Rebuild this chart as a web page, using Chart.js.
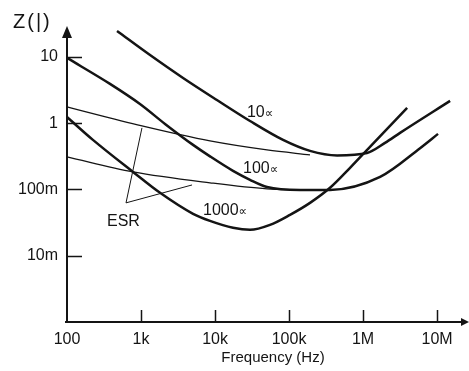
<!DOCTYPE html>
<html>
<head>
<meta charset="utf-8">
<script src="https://cdn.jsdelivr.net/npm/chart.js@4.4.1/dist/chart.umd.min.js"></script>
<style>
  html, body { margin: 0; padding: 0; background: #fff; }
</style>
</head>
<body>
<canvas id="impedanceChart" width="469" height="371"></canvas>
<script>
  // axis ticks
  const xTickValues = [100, 1e3, 1e4, 1e5, 1e6, 1e7];
  const xTickLabels = ['100', '1k', '10k', '100k', '1M', '10M'];
  const yTickValues = [0.01, 0.1, 1, 10];
  const yTickLabels = ['10m', '100m', '1', '10'];

  // |Z| curves (Hz, ohm)
  const freq10 = [474, 1324, 3700, 10600, 29700, 83000, 192000, 446000, 1130000, 1980000, 3160000, 15000000];
  const z10 = [24.7, 10.7, 4.82, 2.24, 1.08, 0.56, 0.382, 0.327, 0.356, 0.505, 0.714, 2.17];

  const freq100 = [100, 381, 968, 2110, 5050, 8550, 17500, 29700, 50400, 141000, 358000, 1700000, 5890000, 10300000];
  const z100 = [9.66, 3.92, 1.95, 0.976, 0.471, 0.316, 0.191, 0.14, 0.109, 0.0986, 0.0986, 0.155, 0.42, 0.69];

  const freq1000 = [100, 224, 780, 1807, 5050, 8550, 17500, 29700, 55300, 103000, 192000, 358000, 667000, 1240000, 3940000];
  const z1000 = [1.24, 0.56, 0.184, 0.089, 0.0429, 0.0336, 0.0264, 0.0246, 0.0292, 0.0414, 0.0628, 0.106, 0.212, 0.44, 1.70];

  // ESR lines
  const esrFreqA = [100, 1030, 8550, 50400, 192000];
  const esrZA = [1.76, 0.91, 0.54, 0.395, 0.333];
  const esrFreqB = [100, 780, 8550, 50400, 141000];
  const esrZB = [0.31, 0.184, 0.126, 0.102, 0.0986];

  // callout from the "ESR" label
  const pointerFreq = [1030, 627, 4890];
  const pointerZ = [0.85, 0.0628, 0.117];

  const curveLabels = [
    { text: '10', unit: '\u221D', x: 27000, y: 1.43 },
    { text: '100', unit: '\u221D', x: 23900, y: 0.205 },
    { text: '1000', unit: '\u221D', x: 6880, y: 0.0475 },
    { text: 'ESR', unit: '', x: 347, y: 0.033 }
  ];

  const INK = '#141414';
  const FONT = '"Liberation Sans", Arial, sans-serif';

  function pairs(xs, ys) {
    return xs.map(function (x, i) { return { x: x, y: ys[i] }; });
  }

  function curve(xs, ys, width, smooth) {
    return {
      data: pairs(xs, ys),
      showLine: true,
      borderColor: INK,
      borderWidth: width,
      pointRadius: 0,
      cubicInterpolationMode: smooth ? 'monotone' : 'default',
      tension: 0,
      clip: false,
      fill: false
    };
  }

  const sketchAxes = {
    id: 'sketchAxes',
    afterDraw: function (chart) {
      const ctx = chart.ctx;
      const a = chart.chartArea;
      const xs = chart.scales.x;
      const ys = chart.scales.y;
      ctx.save();
      ctx.strokeStyle = INK;
      ctx.fillStyle = INK;
      ctx.lineWidth = 2;

      // axes
      ctx.beginPath();
      ctx.moveTo(a.left, a.bottom + 1);
      ctx.lineTo(a.left, a.top);
      ctx.moveTo(a.left - 2, a.bottom);
      ctx.lineTo(a.right, a.bottom);
      ctx.stroke();

      // arrow heads
      ctx.beginPath();
      ctx.moveTo(a.left, a.top - 11);
      ctx.lineTo(a.left - 5, a.top + 1);
      ctx.lineTo(a.left + 5, a.top + 1);
      ctx.closePath();
      ctx.fill();
      ctx.beginPath();
      ctx.moveTo(a.right + 6, a.bottom);
      ctx.lineTo(a.right - 2, a.bottom - 4);
      ctx.lineTo(a.right - 2, a.bottom + 4);
      ctx.closePath();
      ctx.fill();

      // inward ticks
      ctx.lineWidth = 1.5;
      ctx.beginPath();
      yTickValues.forEach(function (v) {
        const py = Math.round(ys.getPixelForValue(v)) + 0.5;
        ctx.moveTo(a.left, py);
        ctx.lineTo(a.left + 15, py);
      });
      xTickValues.slice(1).forEach(function (v) {
        const px = Math.round(xs.getPixelForValue(v)) + 0.5;
        ctx.moveTo(px, a.bottom);
        ctx.lineTo(px, a.bottom - 12);
      });
      ctx.stroke();

      // curve labels
      ctx.textBaseline = 'middle';
      ctx.textAlign = 'left';
      curveLabels.forEach(function (l) {
        const px = xs.getPixelForValue(l.x);
        const py = ys.getPixelForValue(l.y);
        ctx.font = '16px ' + FONT;
        ctx.fillText(l.text, px, py);
        if (l.unit) {
          const w = ctx.measureText(l.text).width;
          ctx.font = '12px "DejaVu Sans", ' + FONT;
          ctx.fillText(l.unit, px + w, py + 1);
        }
      });

      // titles
      ctx.font = '15px ' + FONT;
      ctx.textAlign = 'center';
      ctx.fillText('Frequency (Hz)', 273, 358);
      ctx.font = '20px ' + FONT;
      ctx.textAlign = 'left';
      ctx.letterSpacing = '2px';
      ctx.fillText('Z(|)', 13, 22);
      ctx.restore();
    }
  };

  function init() {
    const el = document.getElementById('impedanceChart');
    if (typeof Chart === 'undefined') {
      console.error('Chart.js is not loaded!');
      return;
    }

    new Chart(el, {
      type: 'scatter',
      data: {
        datasets: [
          curve(freq10, z10, 2.5, true),
          curve(freq100, z100, 2.5, true),
          curve(freq1000, z1000, 2.5, true),
          curve(esrFreqA, esrZA, 1.3, true),
          curve(esrFreqB, esrZB, 1.3, true),
          curve(pointerFreq, pointerZ, 1, false)
        ]
      },
      options: {
        responsive: false,
        animation: false,
        devicePixelRatio: 1,
        layout: { padding: { top: 37, right: 6, left: 0, bottom: 0 } },
        plugins: { legend: { display: false }, tooltip: { enabled: false } },
        scales: {
          x: {
            type: 'logarithmic',
            min: 100,
            max: 2.24e7,
            grid: { display: false, drawTicks: false },
            border: { display: false },
            afterBuildTicks: function (scale) {
              scale.ticks = xTickValues.map(function (v) { return { value: v }; });
            },
            afterFit: function (scale) { scale.height = 49; },
            ticks: {
              autoSkip: false,
              maxRotation: 0,
              padding: 8,
              color: INK,
              font: { family: FONT, size: 16 },
              callback: function (value, index) { return xTickLabels[index]; }
            }
          },
          y: {
            type: 'logarithmic',
            min: 0.001,
            max: 20,
            grid: { display: false, drawTicks: false },
            border: { display: false },
            afterBuildTicks: function (scale) {
              scale.ticks = yTickValues.map(function (v) { return { value: v }; });
            },
            afterFit: function (scale) { scale.width = 67; },
            ticks: {
              autoSkip: false,
              padding: 9,
              color: INK,
              font: { family: FONT, size: 16 },
              callback: function (value, index) { return yTickLabels[index]; }
            }
          }
        }
      },
      plugins: [sketchAxes]
    });
  }

  init();
</script>
</body>
</html>
